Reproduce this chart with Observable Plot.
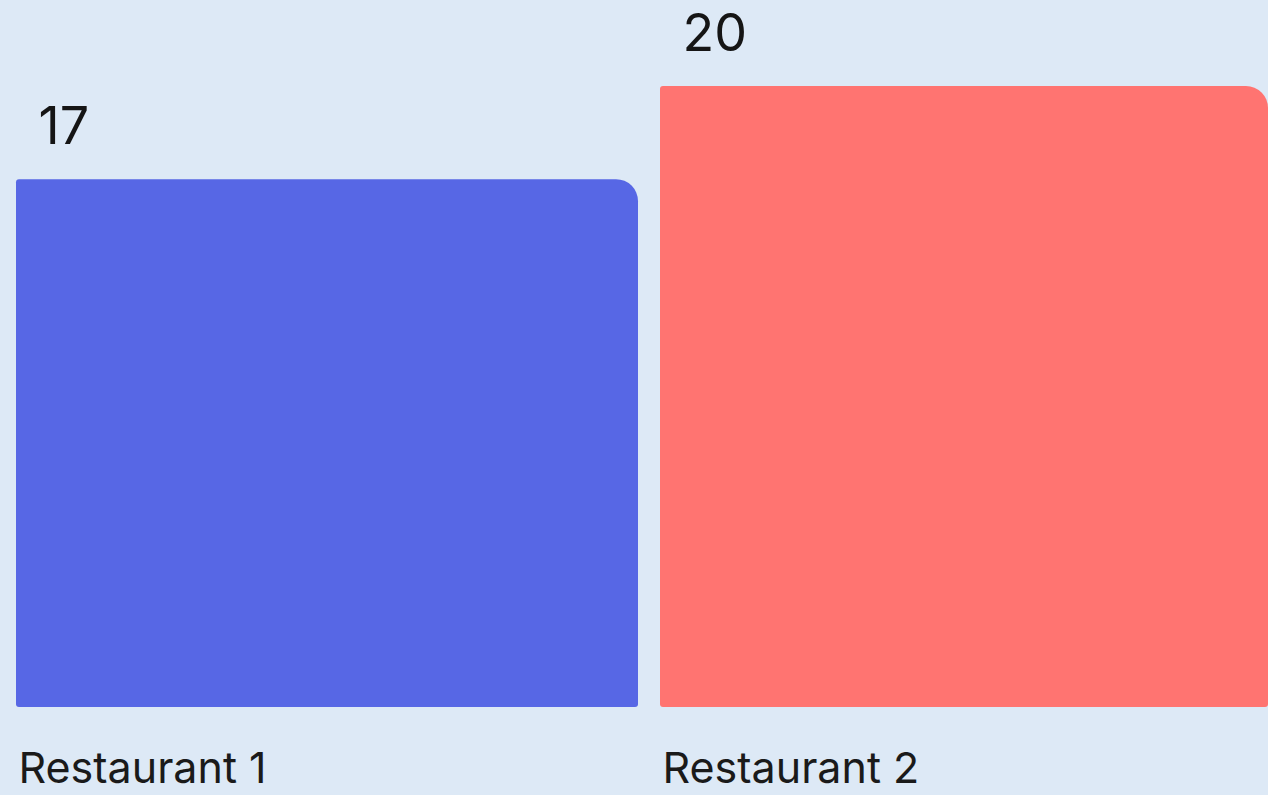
<!DOCTYPE html>
<html>
<head>
<meta charset="utf-8">
<script src="https://cdn.jsdelivr.net/npm/d3@7"></script>
<script src="https://cdn.jsdelivr.net/npm/@observablehq/plot@0.6"></script>
<style>
  html, body { margin: 0; padding: 0; background: #dde9f6; overflow: hidden; }
  #chart svg { display: block; }
</style>
</head>
<body>
<div id="chart"></div>
<script>
const categories = ["Restaurant 1", "Restaurant 2"];
const values = [17, 20];
const colors = ["#5767e5", "#ff7471"];

const data = categories.map((c, i) => ({category: c, value: values[i], color: colors[i]}));

const barOpts = {x: "category", y: "value", fill: "color", r: 3, rx2y1: 22};

const chart = Plot.plot({
  width: 1268,
  height: 795,
  margin: 0,
  style: {background: "#dde9f6", fontFamily: "Inter, Roboto, sans-serif", overflow: "hidden"},
  x: {domain: categories, range: [16, 1282], paddingInner: 22 / 644, paddingOuter: 0, axis: null},
  y: {domain: [0, 20], range: [707, 86], axis: null},
  marks: [
    Plot.barY(data, {...barOpts, filter: d => d.category === categories[0]}),
    Plot.barY(data, {...barOpts, filter: d => d.category === categories[1], insetRight: 14}),
    Plot.text(data, {x: "category", y: "value", text: d => String(d.value), textAnchor: "start", dx: -289, dy: -52, fontSize: 52, fill: "#151515"}),
    Plot.text(data, {x: "category", y: 0, text: "category", textAnchor: "start", dx: -309, dy: 62, fontSize: 43, fill: "#1a1a1a"})
  ]
});
document.getElementById("chart").appendChild(chart);
</script>
</body>
</html>
